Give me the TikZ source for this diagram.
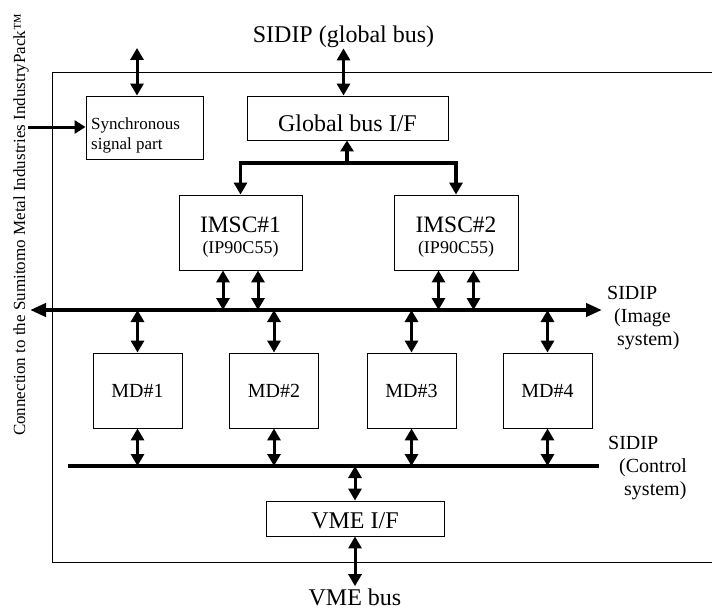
\documentclass[tikz,border=0pt]{standalone}
\usepackage{fontspec}
\setmainfont{Liberation Serif}
\usetikzlibrary{arrows.meta,positioning}

\tikzset{
  box/.style={draw, line width=0.9pt, inner sep=0pt},
  bus/.style={line width=4pt},
  link/.style={line width=3pt, {Triangle[width=13pt,length=12pt]}-{Triangle[width=13pt,length=12pt]}},
  feed/.style={line width=3pt, -{Triangle[width=13pt,length=11pt]}},
  big/.style={font=\fontsize{24}{28}\selectfont},
  mid/.style={font=\fontsize{20}{23}\selectfont},
  small/.style={font=\fontsize{17}{20}\selectfont},
  word/.style={inner sep=0pt, anchor=base}
}

\begin{document}
\begin{tikzpicture}[x=1pt, y=-1pt]
\useasboundingbox (0,0) rectangle (712,610);

% Board outline
\draw[line width=0.9pt] (712,72) -| (52,562) -- (712,562);

% Blocks
\node[box, minimum width=117pt, minimum height=63pt] (sync) at (144.5,127.5) {};
\node[small, inner sep=0pt, anchor=north west, align=left] (synct) at (91,118) {Synchronous\\signal part};
\node[box, big, minimum width=201pt, minimum height=44pt, text height=27pt, text depth=0pt] (gbif) at (347.5,118) {Global bus I/F};
\node[box, minimum width=123pt, minimum height=75pt] (imsc1) at (240.5,232.5) {};
\node[box, minimum width=124pt, minimum height=75pt] (imsc2) at (456,232.5) {};
\foreach \n in {1,2} {
  \node[word, font=\fontsize{23.5}{28}\selectfont] (imsc\n t) at ([yshift=0.5pt]imsc\n.center) {IMSC\#\n};
  \node[word, font=\fontsize{18}{21}\selectfont] (imsc\n c) at ([yshift=-20.5pt]imsc\n.center) {(IP90C55)};
}
\foreach \i/\x in {1/137.5, 2/274, 3/411.5, 4/547.5}
  \node[box, mid, minimum width=89pt, minimum height=75pt] (md\i) at (\x,390.5) {MD\#\i};
\node[box, big, minimum width=178pt, minimum height=35pt, text height=19pt, text depth=0pt] (vme) at (355,518.5) {VME I/F};

% Labels
\node[big, word] (gbus) at (343.5,43) {SIDIP (global bus)};
\node[big, inner sep=2pt, anchor=base] (vmebus) at (355,605) {VME bus};
\node[small, rotate=90, word] (ipack) at (25,225) {Connection to the Sumitomo Metal Industries IndustryPack™};
\node[mid, inner sep=0pt, anchor=north west, align=left] (ilbl) at (607,286.5) {SIDIP\\\hspace{7pt}(Image\\\hspace{10pt}system)};
\node[mid, inner sep=0pt, anchor=north west, align=left] (clbl) at (608,436.5) {SIDIP\\\hspace{11pt}(Control\\\hspace{16pt}system)};

% Bus ends
\coordinate (ibusL) at (30,310);
\coordinate (ibusR) at (602,310);
\coordinate (cbusL) at (68,466);
\coordinate (cbusR) at (599,466);
\coordinate (syncup) at (137,48);
\coordinate (ipackout) at (28,127);
\coordinate (split) at (347,163);

% Buses
\draw[bus, {Triangle[width=13pt,length=16pt]}-{Triangle[width=13pt,length=16pt]}] (ibusL) -- (ibusR);
\draw[line width=3.5pt] (cbusL) -- (cbusR);

% Connections
\draw[link] (syncup) -- (syncup |- sync.north);
\draw[feed] (ipackout) -- (ipackout -| sync.west);
\draw[link] (gbus.south) -- (gbus.south |- gbif.north);
\draw[feed, line width=3.5pt] (split) -- (split |- gbif.south);
\draw[line width=3.5pt, {Triangle[width=13pt,length=12pt]}-{Triangle[width=13pt,length=12pt]}] (imsc1.north) |- (split) -| (imsc2.north);
\foreach \n in {imsc1, imsc2} {
  \draw[link] ([xshift=-17.5pt]\n.south) -- ([xshift=-17.5pt]\n.south |- ibusL);
  \draw[link] ([xshift=17.5pt]\n.south) -- ([xshift=17.5pt]\n.south |- ibusL);
}
\foreach \i in {1,...,4} {
  \draw[link] (md\i.north) -- (md\i.north |- ibusL);
  \draw[link] (md\i.south) -- (md\i.south |- cbusL);
}
\draw[link] (vme.north) -- (vme.north |- cbusL);
\draw[link] (vme.south) -- (vme.south |- vmebus.north);

\end{tikzpicture}
\end{document}
